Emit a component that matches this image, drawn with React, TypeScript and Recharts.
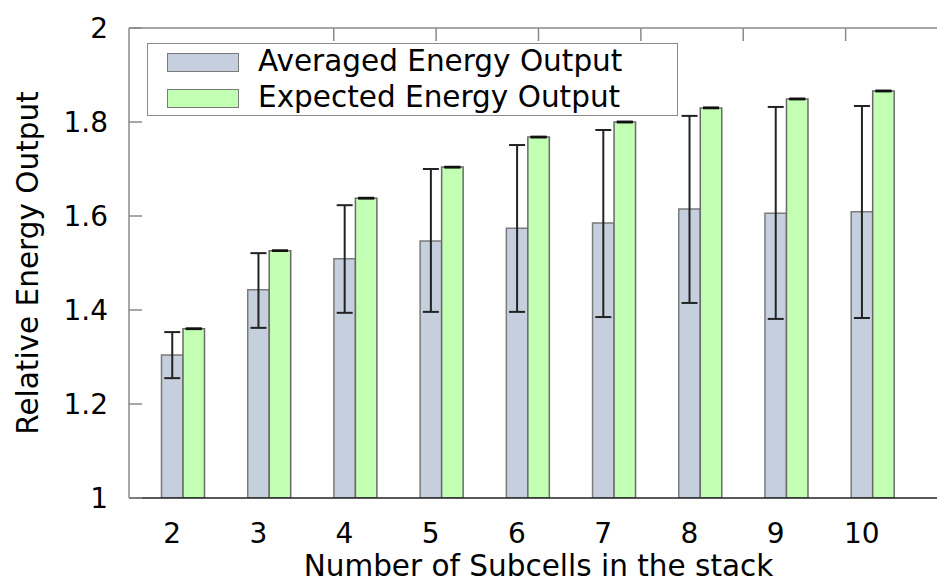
import { BarChart, Bar, XAxis, YAxis, ErrorBar, Legend } from 'recharts';

const subcells = [2, 3, 4, 5, 6, 7, 8, 9, 10];
const averaged = [1.304, 1.443, 1.509, 1.547, 1.574, 1.585, 1.615, 1.606, 1.609];
const averagedHigh = [1.353, 1.521, 1.623, 1.7, 1.751, 1.783, 1.813, 1.832, 1.834];
const averagedLow = [1.255, 1.362, 1.394, 1.396, 1.396, 1.385, 1.415, 1.381, 1.383];
const expected = [1.36, 1.526, 1.638, 1.704, 1.768, 1.8, 1.83, 1.849, 1.866];
const yTicks = [1, 1.2, 1.4, 1.6, 1.8, 2];

const data = subcells.map((n, i) => ({
  n,
  avg: averaged[i],
  avgErr: [averaged[i] - averagedLow[i], averagedHigh[i] - averaged[i]],
  exp: expected[i],
  expErr: [0, 0],
}));

const font = 'DejaVu Sans, sans-serif';

function XTitle({ viewBox }: any) {
  const cx = viewBox.x + viewBox.width / 2;
  return (
    <text x={cx} y={576} textAnchor="middle" fontSize={29.5} fontFamily={font} fill="#000">
      Number of Subcells in the stack
    </text>
  );
}

function YTitle({ viewBox }: any) {
  const cy = viewBox.y + viewBox.height / 2;
  return (
    <text x={38} y={cy} transform={`rotate(-90 38 ${cy})`} textAnchor="middle" fontSize={29.5} fontFamily={font} fill="#000">
      Relative Energy Output
    </text>
  );
}

function LegendBox({ payload }: any) {
  const items = (payload || []).filter((p: any) => p.type !== 'none' && p.dataKey !== 'spacer');
  return (
    <div style={{ boxSizing: 'border-box', width: 531, height: 73, border: '1.5px solid #8a8a8a', background: '#fff', fontFamily: font }}>
      {items.map((p: any) => (
        <div key={p.value} style={{ display: 'flex', alignItems: 'center', height: 36 }}>
          <div style={{ marginLeft: 19, width: 72, height: 19, boxSizing: 'border-box', background: p.color, border: '1.5px solid #7a7a7a' }} />
          <span style={{ marginLeft: 19, fontSize: 29.5, lineHeight: 1, color: '#000' }}>{p.value}</span>
        </div>
      ))}
    </div>
  );
}

export default function App() {
  return (
    <div style={{ width: 937, height: 583, overflow: 'hidden', background: '#fff' }}>
      <style>{'body { margin: 0; }'}</style>
      <BarChart
        width={957}
        height={583}
        data={data}
        margin={{ top: 0, right: 9, bottom: 0, left: 0 }}
        barGap={0}
        barSize={21.5}
        style={{ fontFamily: font }}
      >
        <XAxis
          dataKey="n"
          type="number"
          domain={[1.5, 11]}
          ticks={subcells}
          allowDataOverflow
          interval={0}
          height={85}
          tickSize={0}
          tickMargin={25}
          tickLine={false}
          axisLine={{ stroke: '#222', strokeWidth: 1.5 }}
          tick={{ fill: '#000', fontSize: 28 }}
          label={<XTitle />}
        />
        <XAxis
          xAxisId="top"
          orientation="top"
          type="number"
          domain={[1.5, 11]}
          ticks={subcells}
          allowDataOverflow
          interval={0}
          height={28}
          tickSize={-13}
          tickFormatter={() => ''}
          axisLine={{ stroke: '#8a8a8a', strokeWidth: 1.5 }}
          tickLine={{ stroke: '#8a8a8a', strokeWidth: 1.5 }}
        />
        <YAxis
          domain={[1, 2]}
          ticks={yTicks}
          allowDataOverflow
          interval={0}
          width={129}
          tickSize={-13}
          tickMargin={34}
          axisLine={{ stroke: '#8a8a8a', strokeWidth: 1.5 }}
          tickLine={{ stroke: '#8a8a8a', strokeWidth: 1.5 }}
          tick={{ fill: '#000', fontSize: 28 }}
          label={<YTitle />}
        />
        <YAxis
          yAxisId="r"
          orientation="right"
          domain={[1, 2]}
          ticks={yTicks}
          allowDataOverflow
          interval={0}
          width={0}
          tickSize={-13}
          tickFormatter={() => ''}
          axisLine={{ stroke: '#8a8a8a', strokeWidth: 1.5 }}
          tickLine={{ stroke: '#8a8a8a', strokeWidth: 1.5 }}
        />
        <Bar dataKey="spacer" legendType="none" isAnimationActive={false} />
        <Bar dataKey="avg" name="Averaged Energy Output" fill="#c6cfdd" stroke="#7a7a7a" strokeWidth={1.5} isAnimationActive={false}>
          <ErrorBar dataKey="avgErr" direction="y" width={8} stroke="#222" strokeWidth={2} isAnimationActive={false} />
        </Bar>
        <Bar dataKey="exp" name="Expected Energy Output" fill="#c2ffb2" stroke="#6a6a6a" strokeWidth={1.5} isAnimationActive={false}>
          <ErrorBar dataKey="expErr" direction="y" width={8} stroke="#111" strokeWidth={2.5} isAnimationActive={false} />
        </Bar>
        <Legend
          layout="vertical"
          align="center"
          verticalAlign="middle"
          content={<LegendBox />}
          wrapperStyle={{ position: 'absolute', left: 147, top: 43, width: 531, height: 73 }}
        />
      </BarChart>
    </div>
  );
}
